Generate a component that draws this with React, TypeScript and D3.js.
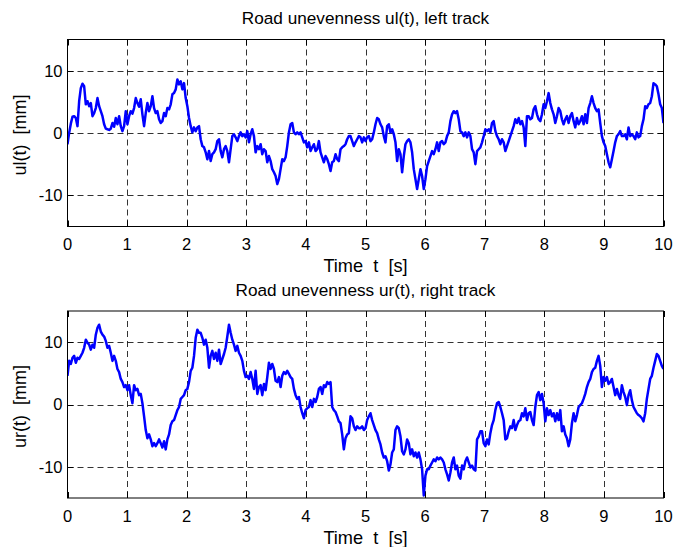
import React from "react";
import * as d3 from "d3";

// Road unevenness, left track ul(t) [mm], uniformly sampled from t = 0 to 10 s
const ulValues: number[] = [
  -1.8, 0.05, 1.5, 2.6, 2.7, 2.4, 1.1, 5.1, 7.2, 7.9,
  7.5, 4.6, 5.1, 4.3, 4.8, 2.7, 3.2, 4.0, 5.6, 4.3,
  3.5, 2.7, 1.4, 0.7, 0.6, 0.5, 0.7, 1.6, 1.0, 2.4,
  1.4, 2.7, 1.1, 0.3, 1.1, 3.5, 1.4, 2.7, 3.5, 3.1,
  4.0, 5.6, 4.8, 4.2, 5.4, 3.0, 1.1, 3.2, 4.8, 3.5,
  4.3, 5.9, 4.0, 3.2, 3.5, 2.2, 1.6, 1.9, 3.2, 2.7,
  4.0, 3.8, 4.6, 6.2, 6.4, 7.0, 8.6, 7.8, 8.3, 7.0,
  8.0, 5.6, 4.3, 2.4, 1.1, 0.1, 0.9, 0.3, 0.9, 1.1,
  -1.0, -2.1, -2.3, -3.1, -4.2, -2.9, -4.5, -3.4, -3.1, -2.6,
  -1.3, -1.0, -2.9, -3.9, -2.6, -2.1, -2.9, -4.7, -2.6, -0.5,
  -0.2, -0.7, -1.3, -0.5, 0.1, -0.5, -0.2, -0.7, 0.3, -1.5,
  -0.2, 0.6, -0.5, -3.1, -2.1, -2.6, -1.8, -3.4, -2.6, -2.9,
  -4.7, -3.7, -4.5, -5.8, -6.3, -6.9, -8.2, -7.4, -5.8, -4.2,
  -4.5, -3.9, -2.1, 0.1, 1.4, 1.6, 0.1, -0.2, 0.1, -0.2,
  0.1, -0.7, -1.5, -1.3, -2.3, -1.5, -2.9, -2.3, -1.8, -2.9,
  -2.6, -1.3, -3.1, -3.9, -4.7, -3.7, -4.2, -5.0, -6.1, -4.7,
  -4.5, -3.4, -4.2, -4.5, -2.6, -2.3, -2.1, -1.8, -1.0, -0.5,
  -0.5, -1.3, -2.1, -1.5, -1.0, -0.5, -0.7, -1.5, -0.7,
  -1.3, -0.7, -0.5, -1.3, -1.0, 0.1, 1.4, 2.4, 2.2, 1.4,
  0.9, -0.5, -1.5, 1.1, 1.4, 0.1, 0.6, -0.2, -1.5, -4.5,
  -2.6, -3.4, -6.3, -3.7, -1.8, -1.3, -1.0, -1.5, -3.1, -5.8,
  -7.4, -9.0, -7.4, -5.8, -6.9, -9.0, -7.4, -5.3, -4.5, -3.7,
  -2.9, -3.4, -2.6, -1.5, -2.9, -1.5, -1.3, -1.8, -1.5, -0.5,
  0.1, 1.9, 3.0, 3.5, 3.2, 3.5, 2.2, 0.3, 0.1, -0.5,
  0.1, -0.7, 0.1, -0.5, -2.6, -3.1, -5.0, -2.9, -2.6, -2.3,
  -1.5, -0.5, 0.6, 0.3, 0.6, 0.1, 1.6, 1.9, 0.3, -0.5,
  -1.0, -1.8, -1.0, -1.5, -2.9, -2.1, -1.3, -0.5, 0.3, 1.1,
  2.2, 1.6, 2.4, 1.4, 1.9, 0.9, -2.1, 2.7, 2.7, 2.2,
  2.4, 3.8, 4.3, 3.0, 2.2, 1.9, 3.0, 4.6, 4.0, 5.1,
  6.4, 4.8, 3.8, 3.0, 1.6, 2.7, 4.0, 3.5, 2.2, 1.4,
  2.2, 2.7, 1.6, 2.7, 3.2, 1.9, 0.9, 2.4, 1.4, 1.9,
  2.7, 1.4, 3.0, 1.6, 4.0, 4.8, 5.9, 4.8, 4.0, 3.5,
  3.8, 1.6, -0.5, -1.5, -2.1, -3.4, -4.7, -5.5, -4.2, -2.9,
  -1.5, -0.5, -0.2, 0.3, -0.5, -0.5, -0.2, -1.0, 0.9, -0.5,
  -0.2, -0.5, -1.0, 0.1, -0.7, -0.5, 1.1, 2.2, 4.3, 4.0,
  4.6, 4.8, 5.9, 8.0, 7.8, 7.5, 6.2, 4.6, 4.0, 1.6,
];

// Road unevenness, right track ur(t) [mm], uniformly sampled from t = 0 to 10 s
const urValues: number[] = [
  4.6, 7.0, 6.5, 7.5, 7.8, 6.7, 7.5, 7.3, 7.8, 8.3,
  9.1, 10.4, 9.9, 9.6, 8.8, 9.6, 9.1, 11.2, 12.3, 12.8,
  11.7, 11.2, 10.9, 10.2, 9.1, 9.4, 8.3, 7.0, 7.8, 7.0,
  5.7, 5.2, 4.1, 3.6, 2.8, 3.1, 2.3, 3.1, 1.5, 0.2,
  3.1, 2.3, 2.5, 1.5, 1.7, 0.2, -1.9, -4.1, -5.4, -4.8,
  -5.6, -6.7, -6.2, -6.7, -6.2, -5.6, -6.2, -6.9, -5.9, -7.2,
  -5.6, -4.8, -3.3, -2.7, -2.5, -1.7, -0.9, -0.4, 0.9, 1.2,
  1.5, 2.3, 2.5, 3.6, 5.4, 5.9, 7.8, 10.7, 12.0, 11.5,
  11.5, 10.7, 9.6, 10.4, 9.1, 5.9, 7.8, 8.6, 7.3, 8.3,
  7.0, 8.8, 6.5, 7.3, 8.1, 9.1, 10.9, 12.8, 11.5, 10.4,
  9.6, 8.6, 9.4, 8.3, 7.8, 7.0, 5.4, 4.4, 4.6, 4.1,
  5.2, 4.1, 2.5, 5.4, 1.7, 2.8, 3.1, 1.5, 3.3, 2.3,
  4.4, 6.7, 5.7, 6.5, 5.7, 3.8, 3.6, 4.4, 2.8, 4.6,
  5.2, 4.9, 5.4, 4.9, 4.4, 4.1, 2.5, 1.5, 0.9, 1.2,
  -0.4, -1.4, -2.2, -0.9, -0.6, -0.4, 0.7, -0.4, 0.9, 0.4,
  1.2, 2.5, 2.8, 1.7, 3.1, 2.8, 3.6, 3.3, 3.6, -0.4,
  -0.9, -1.2, -1.9, -2.7, -3.0, -4.8, -7.2, -5.4, -4.8, -4.6,
  -1.9, -2.2, -3.5, -4.1, -3.5, -3.8, -3.8, -3.5, -4.1,
  -3.8, -2.5, -1.9, -1.4, -2.5, -3.3, -4.1, -4.6, -5.6, -6.4,
  -7.7, -8.5, -8.3, -9.1, -10.6, -9.6, -7.7, -7.2, -4.1, -3.5,
  -3.8, -5.1, -7.5, -8.0, -7.2, -5.6, -6.2, -8.0, -7.2, -8.3,
  -7.7, -8.5, -7.7, -8.8, -10.4, -14.6, -11.4, -10.4, -10.4, -9.8,
  -9.3, -8.8, -9.1, -8.5, -8.8, -8.5, -8.8, -9.3, -10.4, -11.2,
  -12.2, -10.9, -9.3, -8.5, -10.4, -9.8, -11.4, -11.9, -9.8, -10.4,
  -9.1, -8.5, -9.3, -10.1, -9.8, -10.4, -10.6, -5.6, -5.1, -4.3,
  -4.3, -6.2, -6.7, -5.6, -6.4, -4.6, -3.3, -2.5, -0.9, 0.2,
  0.4, -0.4, -1.4, -2.5, -5.6, -5.4, -4.3, -3.5, -3.8, -2.5,
  -4.1, -3.3, -2.7, -2.5, -1.4, -1.9, -0.6, -2.5, -1.4, -1.2,
  -2.5, -3.3, -0.4, 1.5, 2.0, 0.7, 1.7, 0.2, -2.7, -0.6,
  -1.7, -0.9, -1.9, -1.4, -2.7, -1.4, -2.5, -0.9, -4.3, -3.5,
  -4.8, -5.4, -6.7, -5.6, -3.0, -1.4, -2.7, -1.7, -0.4, -0.1,
  0.2, 0.9, 1.7, 2.8, 3.6, 4.1, 5.2, 5.7, 5.9, 7.0,
  7.8, 6.2, 2.8, 4.4, 3.8, 4.4, 3.3, 3.6, 4.1, 2.8,
  1.5, 2.5, 1.5, 0.9, 3.1, 2.0, 1.2, -0.1, 1.5, 2.3,
  0.7, -0.4, -0.9, -1.4, -1.7, -1.9, -2.2, -2.7, -1.4, 0.9,
  2.5, 4.1, 4.6, 5.9, 7.0, 8.1, 7.8, 7.0, 6.2, 5.7,
];

const T_START = 0;
const T_END = 10;
const xTicks = [0, 1, 2, 3, 4, 5, 6, 7, 8, 9, 10];
const yTicks = [-10, 0, 10];
const Y_DOMAIN: [number, number] = [-15, 15];

const titles = ["Road unevenness ul(t), left track", "Road unevenness ur(t), right track"];
const yLabels = ["ul(t)  [mm]", "ur(t)  [mm]"];
const xLabel = "Time  t  [s]";

const W = 674;
const H = 547;
const LEFT = 67.5;
const RIGHT = 663.5;
const PANEL_H = 187;
const PANEL_TOPS = [39.5, 311];
const FONT = "'Liberation Sans', Arial, Helvetica, sans-serif";

function Panel({ values, top, title, ylabel, id }: { values: number[]; top: number; title: string; ylabel: string; id: string }) {
  const x = d3.scaleLinear().domain([T_START, T_END]).range([LEFT, RIGHT]);
  const y = d3.scaleLinear().domain(Y_DOMAIN).range([top + PANEL_H, top]);
  const n = values.length;
  const line = d3
    .line<number>()
    .x((_, i) => x(T_START + (i * (T_END - T_START)) / (n - 1)))
    .y((d) => y(d));
  const bottom = top + PANEL_H;
  const tickLen = 6;
  return (
    <g>
      <defs>
        <clipPath id={id}>
          <rect x={LEFT} y={top} width={RIGHT - LEFT} height={PANEL_H} />
        </clipPath>
      </defs>
      <rect x={LEFT} y={top} width={RIGHT - LEFT} height={PANEL_H} fill="#fff" />
      {xTicks
        .filter((t) => t !== T_START && t !== T_END)
        .map((t) => (
          <line key={"gx" + t} x1={Math.round(x(t)) + 0.5} x2={Math.round(x(t)) + 0.5} y1={top} y2={bottom} stroke="#000" strokeOpacity={0.8} strokeWidth={1} strokeDasharray="6,4" />
        ))}
      {yTicks.map((v) => (
        <line key={"gy" + v} x1={LEFT} x2={RIGHT} y1={Math.round(y(v)) + 0.5} y2={Math.round(y(v)) + 0.5} stroke="#000" strokeOpacity={0.8} strokeWidth={1} strokeDasharray="6,4" />
      ))}
      {xTicks.map((t) => (
        <g key={"tx" + t}>
          <line x1={Math.round(x(t)) + 0.5} x2={Math.round(x(t)) + 0.5} y1={bottom} y2={bottom - tickLen} stroke="#000" />
          <line x1={Math.round(x(t)) + 0.5} x2={Math.round(x(t)) + 0.5} y1={top} y2={top + tickLen} stroke="#000" />
        </g>
      ))}
      {yTicks.map((v) => (
        <g key={"ty" + v}>
          <line x1={LEFT} x2={LEFT + tickLen} y1={Math.round(y(v)) + 0.5} y2={Math.round(y(v)) + 0.5} stroke="#000" />
          <line x1={RIGHT} x2={RIGHT - tickLen} y1={Math.round(y(v)) + 0.5} y2={Math.round(y(v)) + 0.5} stroke="#000" />
        </g>
      ))}
      <path d={line(values) || ""} fill="none" stroke="#0000ff" strokeWidth={2.5} strokeLinejoin="round" clipPath={`url(#${id})`} />
      <rect x={LEFT} y={top} width={RIGHT - LEFT} height={PANEL_H} fill="none" stroke="#000" strokeWidth={1} />
      {xTicks.map((t) => (
        <text key={"lx" + t} x={x(t)} y={bottom + 23.5} textAnchor="middle" fontSize={16.5} fontFamily={FONT} fill="#000">
          {t}
        </text>
      ))}
      {yTicks.map((v) => (
        <text key={"ly" + v} x={LEFT - 5} y={y(v)} dy="0.36em" textAnchor="end" fontSize={16.5} fontFamily={FONT} fill="#000">
          {v}
        </text>
      ))}
      <text x={(LEFT + RIGHT) / 2} y={top - 15.5} textAnchor="middle" fontSize={17.2} fontFamily={FONT} fill="#000" style={{ whiteSpace: "pre" }}>
        {title}
      </text>
      <text x={(LEFT + RIGHT) / 2} y={bottom + 45.5} textAnchor="middle" fontSize={18.2} fontFamily={FONT} fill="#000" style={{ whiteSpace: "pre" }}>
        {xLabel}
      </text>
      <text transform={`translate(26,${top + PANEL_H / 2 + 2}) rotate(-90)`} textAnchor="middle" fontSize={18} fontFamily={FONT} fill="#000" style={{ whiteSpace: "pre" }}>
        {ylabel}
      </text>
    </g>
  );
}

export default function App() {
  return (
    <svg width={W} height={H} style={{ position: "absolute", left: 0, top: 0, background: "#fff" }}>
      <rect x={0} y={0} width={W} height={H} fill="#fff" />
      <Panel values={ulValues} top={PANEL_TOPS[0]} title={titles[0]} ylabel={yLabels[0]} id="clipTop" />
      <Panel values={urValues} top={PANEL_TOPS[1]} title={titles[1]} ylabel={yLabels[1]} id="clipBottom" />
    </svg>
  );
}
